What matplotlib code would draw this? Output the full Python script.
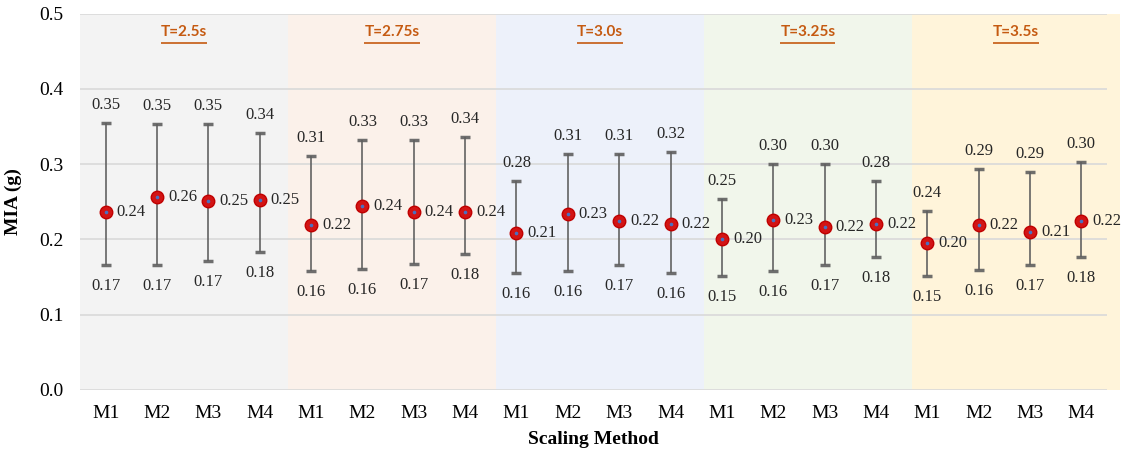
"""
MIA (g) po metodach skalowania dla różnych okresów T — wykres z przedziałami.
"""
import matplotlib.pyplot as plt
import numpy as np

plt.rcParams["font.family"] = "Liberation Serif"

# dane
periods = ["T=2.5s", "T=2.75s", "T=3.0s", "T=3.25s", "T=3.5s"]
methods = ["M1", "M2", "M3", "M4"]

mean_vals = [0.236, 0.256, 0.251, 0.252,
             0.219, 0.244, 0.236, 0.236,
             0.208, 0.234, 0.224, 0.221,
             0.200, 0.226, 0.216, 0.221,
             0.195, 0.219, 0.210, 0.224]
upper_vals = [0.354, 0.353, 0.353, 0.341,
              0.311, 0.332, 0.332, 0.336,
              0.277, 0.313, 0.313, 0.316,
              0.253, 0.300, 0.300, 0.277,
              0.238, 0.293, 0.290, 0.303]
lower_vals = [0.166, 0.166, 0.171, 0.183,
              0.158, 0.161, 0.167, 0.180,
              0.156, 0.158, 0.166, 0.156,
              0.152, 0.158, 0.166, 0.176,
              0.151, 0.160, 0.166, 0.176]

band_colors = ["#F3F3F3", "#FBF1EA", "#EDF1FA", "#F1F6EB", "#FFF4DA"]

W, H = 1125, 449
fig = plt.figure(figsize=(W / 100, H / 100), dpi=100)
ax = fig.add_axes([80 / W, (H - 390) / H, (1107 - 80) / W, (390 - 13.5) / H])

n = len(mean_vals)
x = np.arange(n)
mean = np.array(mean_vals)
up = np.array(upper_vals)
lo = np.array(lower_vals)

ax.set_xlim(-0.5, n - 0.5)
ax.set_ylim(0, 0.5)

# tła grup
bw = 4.05
for i, c in enumerate(band_colors):
    ax.axvspan(-0.5 + i * bw, -0.5 + (i + 1) * bw, color=c, lw=0, zorder=0,
               clip_on=False)

for yv in np.arange(0, 0.51, 0.1):
    ax.axhline(yv, color="#D9D9D9", lw=1.2, zorder=1)

ax.errorbar(x, mean, yerr=[mean - lo, up - mean], fmt="none",
            ecolor="#5F5F5F", elinewidth=1.3, capsize=3.5, capthick=2.5,
            alpha=0.9, zorder=2)
ax.plot(x, mean, "o", ms=9, mfc="#D21414", mec="#C00000", zorder=3)
ax.plot(x, mean, "o", ms=1.6, color="#4A6FC0", zorder=4)

for xi, m, u, l in zip(x, mean, up, lo):
    ax.annotate(f"{m:.2f}", (xi, m), xytext=(11, 0), textcoords="offset pixels",
                ha="left", va="center", fontsize=12, color="#262626")
    ax.annotate(f"{u:.2f}", (xi, u), xytext=(0, 18), textcoords="offset pixels",
                ha="center", va="center", fontsize=12, color="#262626")
    ax.annotate(f"{l:.2f}", (xi, l), xytext=(0, -21), textcoords="offset pixels",
                ha="center", va="center", fontsize=12, color="#262626")

# tytuły grup z podkreśleniem
fig.canvas.draw()
renderer = fig.canvas.get_renderer()
for i, p in enumerate(periods):
    cx = -0.5 + (i + 0.5) * bw
    t = ax.text(cx, 0.475, p, ha="center", va="center", fontsize=11,
                fontweight="bold", color="#C55A11", family="Lato")
    bb = t.get_window_extent(renderer).transformed(ax.transData.inverted())
    ax.plot([bb.x0, bb.x1], [0.461, 0.461], color="#C55A11", lw=1.2,
            solid_capstyle="butt", zorder=5)

ax.set_xticks(x)
ax.set_xticklabels(methods * len(periods), fontsize=14)
ax.set_yticks(np.arange(0, 0.51, 0.1))
ax.set_yticklabels([f"{v:.1f}" for v in np.arange(0, 0.51, 0.1)], fontsize=14)
ax.tick_params(length=0, pad=11)
ax.tick_params(axis="y", pad=12)
for s in ax.spines.values():
    s.set_visible(False)

ax.set_ylabel("MIA (g)", fontsize=14, fontweight="bold", labelpad=12)
ax.set_xlabel("Scaling Method", fontsize=14, fontweight="bold", labelpad=6)

fig.savefig("out.png", dpi=100)
